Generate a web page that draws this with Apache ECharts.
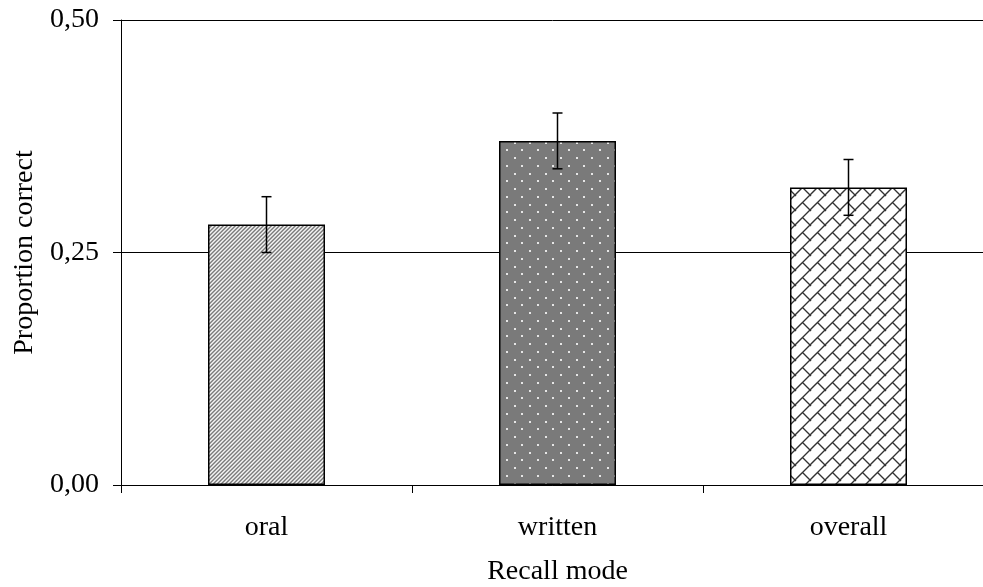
<!DOCTYPE html>
<html>
<head>
<meta charset="utf-8">
<script src="https://cdn.jsdelivr.net/npm/echarts@6/dist/echarts.min.js"></script>
<style>
  html, body { margin: 0; padding: 0; background: #fff; }
  #chart { width: 983px; height: 587px; }
</style>
</head>
<body>
<div id="chart"></div>
<script>
// Recall accuracy by mode, with error bars
const categories = ['oral', 'written', 'overall'];
const proportions = [0.28, 0.37, 0.32];
const errLower = [0.25, 0.34, 0.29];
const errUpper = [0.31, 0.40, 0.35];
const yTicks = [0, 0.25, 0.5];

const FONT = 'Liberation Serif';
const FONT_SIZE = 28;

// Fill patterns for the three bars
function stripeTile() {
  const c = document.createElement('canvas');
  c.width = 8; c.height = 8;
  const g = c.getContext('2d');
  const shades = ['#7c7c7c', '#a4a4a4', '#f2f2f2', '#cdcdcd'];
  for (let y = 0; y < 8; y++) {
    for (let x = 0; x < 8; x++) {
      g.fillStyle = shades[(x + y) % 4];
      g.fillRect(x, y, 1, 1);
    }
  }
  return c;
}

function dotTile() {
  const c = document.createElement('canvas');
  c.width = 31; c.height = 31;
  const g = c.getContext('2d');
  g.fillStyle = '#7a7a7a';
  g.fillRect(0, 0, 31, 31);
  g.fillStyle = '#e6e6e6';
  const p = 15.5, o = 3;
  const pts = [
    [o, o], [o + p, o],
    [o + p / 2, o + p / 2], [o + p * 1.5, o + p / 2],
    [o, o + p], [o + p, o + p],
    [o + p / 2, o + p * 1.5], [o + p * 1.5, o + p * 1.5]
  ];
  pts.forEach(([x, y]) => {
    g.fillRect(Math.round(x) - 1, Math.round(y) - 1, 2, 2);
  });
  return c;
}

function brickTile() {
  const s = 15;
  const c = document.createElement('canvas');
  c.width = s; c.height = s;
  const g = c.getContext('2d');
  g.fillStyle = '#ffffff';
  g.fillRect(0, 0, s, s);
  g.strokeStyle = '#333333';
  g.lineWidth = 1.4;
  g.beginPath();
  [-s, 0, s].forEach(k => {
    g.moveTo(-2, s + k + 2);
    g.lineTo(s + 2, k - 2);
  });
  g.moveTo(s / 2, s / 2);
  g.lineTo(s + 1, s + 1);
  g.moveTo(-s / 2, -s / 2);
  g.lineTo(1, 1);
  g.stroke();
  return c;
}

const fills = [
  { image: stripeTile(), repeat: 'repeat' },
  { image: dotTile(), repeat: 'repeat' },
  { image: brickTile(), repeat: 'repeat' }
];

const barData = proportions.map((v, i) => ({
  value: v,
  itemStyle: { color: fills[i], borderColor: '#000', borderWidth: 1.5 }
}));

const errData = categories.map((c, i) => [i, errLower[i], errUpper[i]]);

const chart = echarts.init(document.getElementById('chart'), null, { renderer: 'canvas' });

chart.setOption({
  backgroundColor: '#ffffff',
  animation: false,
  grid: {
    left: 121, top: 20, width: 873, height: 465,
    containLabel: false,
    outerBoundsMode: 'none'
  },
  xAxis: {
    type: 'category',
    data: categories,
    boundaryGap: true,
    name: 'Recall mode',
    nameLocation: 'middle',
    nameGap: 73,
    nameTextStyle: { fontFamily: FONT, fontSize: FONT_SIZE, color: '#000' },
    axisLine: { lineStyle: { color: '#000', width: 1 } },
    axisTick: { show: true, length: 8, alignWithLabel: false, lineStyle: { color: '#000' } },
    axisLabel: { fontFamily: FONT, fontSize: FONT_SIZE, color: '#000', margin: 29 },
    splitLine: { show: false }
  },
  yAxis: {
    type: 'value',
    min: yTicks[0],
    max: yTicks[yTicks.length - 1],
    interval: yTicks[1] - yTicks[0],
    name: 'Proportion correct',
    nameLocation: 'middle',
    nameGap: 82,
    nameTextStyle: { fontFamily: FONT, fontSize: FONT_SIZE, color: '#000' },
    axisLine: { show: true, lineStyle: { color: '#000', width: 1 } },
    axisTick: { show: true, length: 8, lineStyle: { color: '#000' } },
    axisLabel: {
      fontFamily: FONT, fontSize: FONT_SIZE, color: '#000', margin: 22,
      formatter: v => v.toFixed(2).replace('.', ',')
    },
    splitLine: { show: true, lineStyle: { color: '#000', width: 1 } }
  },
  series: [
    {
      type: 'bar',
      data: barData,
      barWidth: 117,
      z: 2
    },
    {
      type: 'custom',
      data: errData,
      encode: { x: 0, y: [1, 2] },
      z: 5,
      renderItem: function (params, api) {
        const lo = api.coord([api.value(0), api.value(1)]);
        const hi = api.coord([api.value(0), api.value(2)]);
        const x = lo[0];
        const cap = 5;
        const st = { stroke: '#000', lineWidth: 1.5 };
        return {
          type: 'group',
          children: [
            { type: 'line', shape: { x1: x, y1: hi[1], x2: x, y2: lo[1] }, style: st },
            { type: 'line', shape: { x1: x - cap, y1: hi[1], x2: x + cap, y2: hi[1] }, style: st },
            { type: 'line', shape: { x1: x - cap, y1: lo[1], x2: x + cap, y2: lo[1] }, style: st }
          ]
        };
      }
    }
  ]
});
</script>
</body>
</html>
